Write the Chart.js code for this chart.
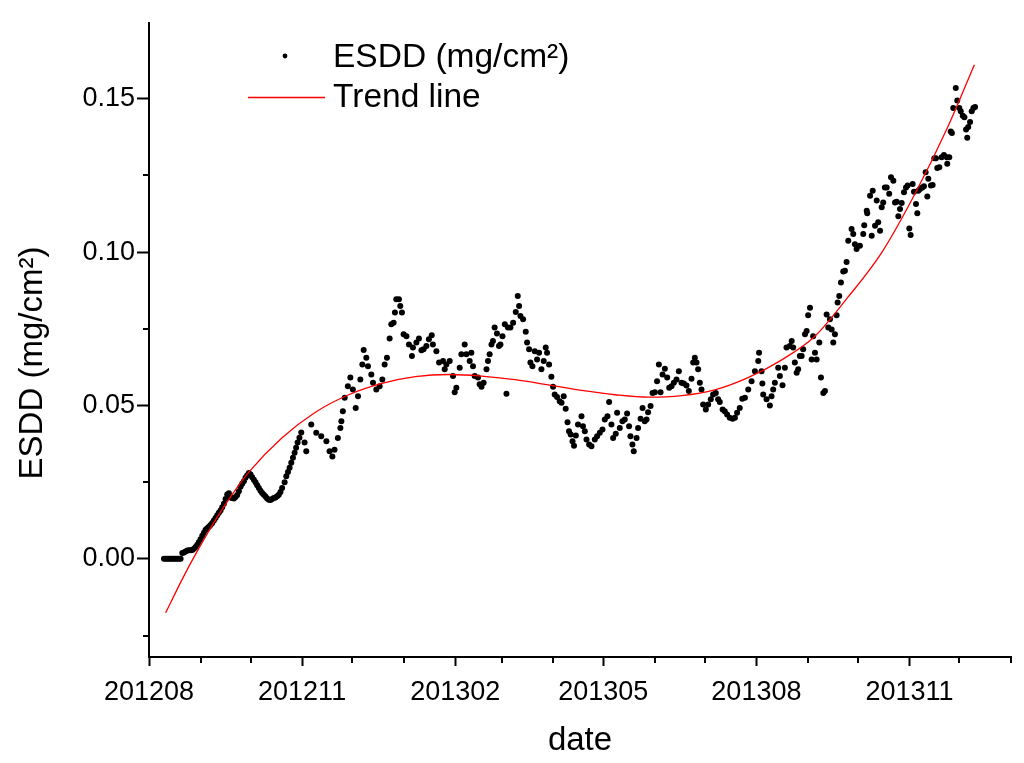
<!DOCTYPE html>
<html>
<head>
<meta charset="utf-8">
<script src="https://cdn.jsdelivr.net/npm/chart.js@4.4.1/dist/chart.umd.min.js"></script>
<style>
html,body{margin:0;padding:0;background:#fff;}
#wrap{width:1024px;height:763px;position:relative;}
</style>
</head>
<body>
<div id="wrap"><canvas id="c" width="1024" height="763"></canvas></div>
<script>
// x values are days since 2012-08-01
const xTickDays   = [0,31,61,92,122,153,184,212,243,273,304,334,365,396,426,457,487,518];
const xTickLabels = ['201208','','','201211','','','201302','','','201305','','','201308','','','201311','',''];
const yTickValues = [-0.025,0,0.025,0.05,0.075,0.10,0.125,0.15];
const yTickLabels = ['','0.00','','0.05','','0.10','','0.15'];
const xTitle = 'date';
const yTitle = 'ESDD (mg/cm\u00B2)';

const esddDays = [
9,10,11,12,13,14,15,16,17,18,19,
20,21,22,23,24,25,26,27,28,29,30,31,32,33,34,35,36,37,38,39,40,41,42,43,44,45,46,47,48,49,50,51,52,53,54,55,56,57,
58,59,60,61,62,63,64,65,66,67,68,69,70,71,72,73,74,75,76,77,78,79,80,
81.5,82.5,83.5,84.5,85.5,86.5,87.5,88.4,89.3,90.4,91.5,93.5,94.5,97.5,100.5,103.5,106.6,108.5,110.2,111.5,113.5,115.0,115.6,116.5,117.6,119.5,121.0,122.5,124.2,125.6,127.0,128.2,129.0,130.6,131.6,133.6,134.6,136.6,138.6,140.2,141.6,143.0,144.6,145.6,147.0,147.8,148.6,150.2,151.0,152.0,153.0,154.7,156.2,158.0,158.6,160.7,162.2,163.7,165.0,166.7,168.2,169.9,170.6,172.7,174.3,
176.7,177.7,178.7,180.7,182.7,183.7,184.7,186.7,187.7,189.7,190.7,192.7,193.7,194.7,195.7,197.7,198.7,199.8,201.1,202.8,203.7,204.7,205.8,206.7,207.7,209.1,210.3,211.2,212.4,213.8,214.8,215.7,217.2,218.8,220.4,221.6,222.4,223.2,224.8,226.4,227.2,228.4,229.2,230.4,231.8,233.2,234.4,235.8,237.2,238.4,239.2,240.4,241.8,242.8,243.8,245.2,246.8,247.9,249.2,250.4,251.5,252.4,253.4,254.5,255.4,256.5,257.8,
259.9,260.8,261.9,262.9,264.5,265.9,267.9,269.3,270.9,272.5,273.9,275.5,276.5,277.9,278.9,280.5,281.3,282.9,284.5,285.9,287.3,288.5,289.3,290.5,291.3,293.0,293.9,295.4,296.6,297.9,299.0,299.9,301.4,302.6,304.0,305.3,306.4,307.4,308.6,310.0,311.4,312.6,314.0,315.4,317.0,318.4,320.0,321.4,323.0,324.4,326.0,327.0,328.0,329.0,330.0,331.0,332.0,333.0,334.6,336.0,337.6,339.0,340.6,342.0,343.0,344.7,346.0,347.4,349.0,350.7,352.1,353.4,355.0,356.5,
358.1,360.1,362.1,364.1,366.1,366.6,368.1,368.6,369.1,371.1,373.1,374.1,375.1,376.1,378.1,379.1,380.7,382.1,383.1,385.1,386.2,387.1,388.1,389.2,390.1,391.1,392.2,393.1,394.2,395.2,396.1,397.2,398.2,399.1,400.2,401.2,402.8,403.8,405.2,406.2,407.2,408.2,409.2,410.2,411.2,412.2,413.2,413.8,414.8,415.8,417.2,418.2,419.2,
420.2,422.2,423.2,424.2,425.2,427.2,429.2,429.8,431.3,431.6,433.3,434.3,434.9,436.3,437.3,438.2,439.3,440.3,441.2,442.2,443.3,444.8,445.9,447.3,448.3,449.3,450.3,451.3,452.3,453.7,454.9,455.9,456.9,457.7,458.9,459.7,460.9,461.7,462.3,463.3,464.7,465.7,466.7,467.7,468.3,469.9,470.9,471.9,472.9,473.7,474.9,476.3,477.7,479.4,479.7,480.9,481.8,482.5,483.3,484.8,485.7,486.9,487.8,489.0,490.0,491.0,491.7,492.3,493.4,494.4,495.4,496.4
];
const esddValues = [
0,0,0,0,0,0,0,0,0,0,0,
.0019,.0021,.0024,.0027,.0028,.0028,.0029,.0033,.0039,.0046,.0055,.0064,.0075,.0085,.0095,.0100,.0105,.0110,.0117,.0125,.0133,.0142,.0150,.0158,.0168,.0180,.0195,.0210,.0214,.0200,.0198,.0197,.0202,.0208,.0220,.0235,.0245,.0253,
.0264,.0272,.0280,.0275,.0266,.0258,.0250,.0240,.0231,.0222,.0215,.0209,.0203,.0197,.0193,.0192,.0195,.0198,.0200,.0204,.0209,.0218,.0231,
.0250,.0269,.0283,.0297,.0313,.0330,.0346,.0362,.0379,.0395,.0412,.0379,.0351,.0438,.0411,.0400,.0383,.0351,.0334,.0356,.0394,.0427,.0449,.0481,.0525,.0563,.0591,.0552,.0492,.0530,.0585,.0634,.0681,.0656,.0628,.0601,.0574,.0552,.0563,.0585,.0634,.0656,.0718,.0765,.0770,.0803,.0846,.0846,.0824,.0803,.0732,.0726,.0699,.0661,.0689,.0705,.0718,.0680,.0683,.0694,.0716,.0729,.0699,.0677,.0640,
.0645,.0618,.0634,.0645,.0596,.0543,.0558,.0623,.0667,.0699,.0667,.0645,.0672,.0628,.0596,.0591,.0569,.0561,.0574,.0618,.0645,.0667,.0699,.0710,.0754,.0735,.0694,.0699,.0726,.0765,.0538,.0754,.0754,.0770,.0805,.0857,.0824,.0792,.0781,.0740,.0705,.0683,.0640,.0628,.0677,.0650,.0672,.0618,.0645,.0689,.0672,.0634,.0594,.0561,.0536,.0528,.0514,.0509,.0530,.0489,.0445,.0416,.0405,.0383,.0369,.0402,.0438,
.0465,.0432,.0416,.0389,.0373,.0367,.0389,.0400,.0411,.0422,.0454,.0465,.0511,.0438,.0394,.0408,.0476,.0427,.0449,.0454,.0474,.0432,.0400,.0373,.0351,.0394,.0427,.0457,.0492,.0449,.0454,.0478,.0498,.0541,.0543,.0579,.0634,.0543,.0601,.0620,.0591,.0558,.0563,.0574,.0585,.0612,.0574,.0572,.0565,.0547,.0587,.0640,.0656,.0640,.0618,.0574,.0552,.0503,.0487,.0503,.0520,.0536,.0541,.0520,.0511,.0487,.0481,.0471,.0460,.0457,.0460,.0476,.0492,.0522,
.0525,.0552,.0579,.0612,.0645,.0672,.0612,.0572,.0536,.0520,.0500,.0530,.0552,.0574,.0623,.0596,.0566,.0623,.0689,.0694,.0710,.0689,.0640,.0607,.0618,.0661,.0661,.0683,.0732,.0743,.0794,.0819,.0650,.0726,.0672,.0650,.0705,.0591,.0541,.0547,.0797,.0754,.0781,.0748,.0705,.0732,.0794,.0836,.0857,.0901,.0937,.0939,.0968,
.1037,.1075,.1059,.1026,.1010,.1021,.1059,.1088,.1135,.1127,.1184,.1053,.1200,.1086,.1168,.1097,.1070,.1146,.1162,.1211,.1211,.1190,.1244,.1233,.1162,.1164,.1117,.1141,.1160,.1195,.1211,.1217,.1077,.1056,.1222,.1197,.1157,.1127,.1200,.1206,.1211,.1215,.1260,.1181,.1239,.1217,.1219,.1306,.1306,.1274,.1277,.1309,.1317,.1309,.1288,.1309,.1393,.1388,.1470,.1535,.1494,.1470,.1459,.1445,.1440,.1400,.1373,.1408,.1424,.1459,.1470,.1473
];

const trendDays   = [10,20,30,40,50,60,80,100,120,140,160,180,200,220,240,260,280,300,320,340,360,380,400,420,440,460,480,496];
const trendValues = [-0.0176,-0.0066,0.0035,0.0127,0.0210,0.0283,0.0395,0.0478,0.0535,0.0572,0.0594,0.0601,0.0596,0.0584,0.0567,0.0549,0.0535,0.0527,0.0532,0.0551,0.0591,0.0648,0.0725,0.0853,0.0996,0.1187,0.1408,0.1611];

const FONT = '"Liberation Sans", Arial, sans-serif';
Chart.defaults.font.family = FONT;
Chart.defaults.color = '#000';

const isMajorX = i => xTickLabels[i] !== '';
const isMajorY = i => yTickLabels[i] !== '';

const minorTicks = {
  id: 'minorTicks',
  afterDraw(chart) {
    const {ctx, scales: {x, y}} = chart;
    ctx.save();
    ctx.strokeStyle = '#000';
    ctx.lineWidth = 2;
    xTickDays.forEach((d, i) => {
      if (isMajorX(i)) return;
      const px = Math.round(x.getPixelForValue(d));
      ctx.beginPath(); ctx.moveTo(px, x.top); ctx.lineTo(px, x.top + 6); ctx.stroke();
    });
    yTickValues.forEach((v, i) => {
      if (isMajorY(i)) return;
      const py = Math.round(y.getPixelForValue(v));
      ctx.beginPath(); ctx.moveTo(y.right, py); ctx.lineTo(y.right - 6, py); ctx.stroke();
    });
    ctx.restore();
  }
};

const yTitlePlugin = {
  id: 'yTitle',
  afterDraw(chart) {
    const ctx = chart.ctx;
    ctx.save();
    ctx.translate(33, 363);
    ctx.rotate(-Math.PI / 2);
    ctx.font = '33px ' + FONT;
    ctx.fillStyle = '#000';
    ctx.textAlign = 'center';
    ctx.textBaseline = 'middle';
    ctx.fillText(yTitle, 0, 0);
    ctx.restore();
  }
};

const customLegend = {
  id: 'customLegend',
  afterDraw(chart) {
    const ctx = chart.ctx;
    const ds = chart.data.datasets;
    ctx.save();
    ctx.font = '33.5px ' + FONT;
    ctx.fillStyle = '#000';
    ctx.textBaseline = 'middle';
    ctx.textAlign = 'left';
    ctx.beginPath(); ctx.arc(285, 56, 2.4, 0, Math.PI * 2); ctx.fill();
    ctx.fillText(ds[0].label, 333, 58);
    ctx.strokeStyle = ds[1].borderColor;
    ctx.lineWidth = 1.3;
    ctx.beginPath(); ctx.moveTo(248, 97.5); ctx.lineTo(325, 97.5); ctx.stroke();
    ctx.fillText(ds[1].label, 333, 98);
    ctx.restore();
  }
};

new Chart(document.getElementById('c'), {
  type: 'scatter',
  data: {
    datasets: [
      {
        label: 'ESDD (mg/cm\u00B2)',
        data: esddDays.map((d, i) => ({x: d, y: esddValues[i]})),
        pointRadius: 3,
        pointBackgroundColor: '#000',
        pointBorderWidth: 0,
        showLine: false,
        order: 1
      },
      {
        label: 'Trend line',
        type: 'line',
        data: trendDays.map((d, i) => ({x: d, y: trendValues[i]})),
        borderColor: '#ff0000',
        borderWidth: 1.3,
        pointRadius: 0,
        fill: false,
        cubicInterpolationMode: 'monotone',
        order: 0
      }
    ]
  },
  options: {
    responsive: false,
    animation: false,
    devicePixelRatio: 1,
    layout: {padding: {top: 23, right: 13, bottom: 0, left: 0}},
    plugins: {legend: {display: false}, tooltip: {enabled: false}},
    scales: {
      x: {
        type: 'linear',
        min: 0, max: 518,
        afterBuildTicks: s => { s.ticks = xTickDays.map(v => ({value: v})); },
        afterFit: s => { s.height = 106; },
        ticks: {
          autoSkip: false, maxRotation: 0, minRotation: 0,
          padding: 10,
          font: {size: 27},
          callback: (v, i) => xTickLabels[i]
        },
        grid: {
          drawOnChartArea: false, drawTicks: true, tickLength: 9, tickWidth: 2,
          tickColor: c => isMajorX(c.index) ? '#000' : 'rgba(0,0,0,0)'
        },
        border: {display: true, color: '#000', width: 2},
        title: {display: true, text: xTitle, font: {size: 33}, padding: {top: 0, bottom: 2}}
      },
      y: {
        type: 'linear',
        min: -0.032, max: 0.1747,
        afterBuildTicks: s => { s.ticks = yTickValues.map(v => ({value: v})); },
        afterFit: s => { s.width = 149; },
        ticks: {
          autoSkip: false,
          padding: 2,
          font: {size: 27},
          callback: (v, i) => yTickLabels[i]
        },
        grid: {
          drawOnChartArea: false, drawTicks: true, tickLength: 12, tickWidth: 2,
          tickColor: c => isMajorY(c.index) ? '#000' : 'rgba(0,0,0,0)'
        },
        border: {display: true, color: '#000', width: 2},
        title: {display: false}
      }
    }
  },
  plugins: [minorTicks, yTitlePlugin, customLegend]
});
</script>
</body>
</html>
